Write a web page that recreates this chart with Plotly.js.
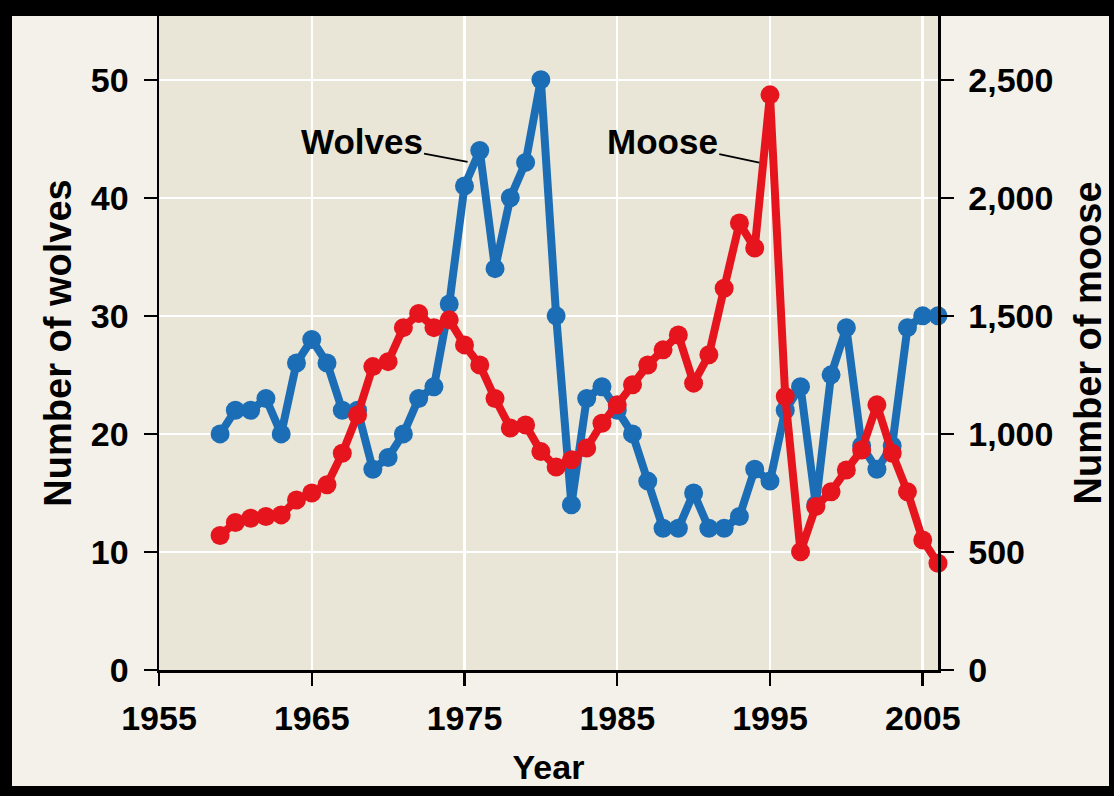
<!DOCTYPE html>
<html>
<head>
<meta charset="utf-8">
<script src="https://cdn.plot.ly/plotly-3.0.1.min.js"></script>
<style>
  html, body { margin: 0; padding: 0; background: #000; width: 1114px; height: 796px; overflow: hidden; }
  #chart { position: absolute; left: 12px; top: 16px; width: 1097px; height: 770px; background: #f4f1ea; }
</style>
</head>
<body>
<div id="chart"></div>
<script>
const years = [1959,1960,1961,1962,1963,1964,1965,1966,1967,1968,1969,1970,1971,1972,1973,1974,1975,1976,1977,1978,1979,1980,1981,1982,1983,1984,1985,1986,1987,1988,1989,1990,1991,1992,1993,1994,1995,1996,1997,1998,1999,2000,2001,2002,2003,2004,2005,2006];
const wolves = [20,22,22,23,20,26,28,26,22,22,17,18,20,23,24,31,41,44,34,40,43,50,30,14,23,24,22,20,16,12,12,15,12,12,13,17,16,22,24,14,25,29,19,17,19,29,30,30];
const moose = [570,625,643,650,657,720,750,785,918,1080,1285,1306,1450,1510,1450,1483,1377,1292,1150,1025,1038,925,860,890,940,1045,1123,1208,1292,1356,1419,1215,1335,1617,1893,1787,2436,1158,501,692,755,847,932,1123,918,755,551,452];
const xTicks = [1955,1965,1975,1985,1995,2005];
const wolfTicks = [0,10,20,30,40,50];
const mooseTicks = [0,500,1000,1500,2000,2500];
const labels = {wolves: 'Wolves', moose: 'Moose', x: 'Year', y1: 'Number of wolves', y2: 'Number of moose'};

const FONT = 'Liberation Sans, Arial, Helvetica, sans-serif';
const blue = '#1b6db5';
const red = '#e6151d';

const traces = [
  {x: years, y: wolves, type: 'scatter', mode: 'lines+markers', name: labels.wolves,
   line: {color: blue, width: 8}, marker: {color: blue, size: 19}, cliponaxis: false, yaxis: 'y'},
  {x: years, y: moose, type: 'scatter', mode: 'lines+markers', name: labels.moose,
   line: {color: red, width: 8}, marker: {color: red, size: 19}, cliponaxis: false, yaxis: 'y2'}
];

const axisCommon = {
  showline: true, linecolor: '#000', linewidth: 2.5,
  ticks: 'outside', ticklen: 13, tickwidth: 2.5, tickcolor: '#000',
  tickfont: {family: FONT, size: 34, color: '#000', weight: 700},
  zeroline: false
};

const layout = {
  width: 1097, height: 770,
  margin: {l: 147, r: 171, t: 0, b: 116, pad: 0},
  paper_bgcolor: '#f4f1ea',
  plot_bgcolor: '#e9e5d7',
  showlegend: false,
  font: {family: FONT, color: '#000'},
  xaxis: Object.assign({}, axisCommon, {
    range: [1955, 2006], tickvals: xTicks,
    showgrid: true, gridcolor: '#ffffff', gridwidth: 2.5,
    ticklabelstandoff: 4,
    title: {text: labels.x, font: {family: FONT, size: 34, weight: 700, color: '#000'}, standoff: 20}
  }),
  yaxis: Object.assign({}, axisCommon, {
    range: [0, 55.4], tickvals: wolfTicks,
    showgrid: true, gridcolor: '#ffffff', gridwidth: 2.5,
    ticklabelstandoff: 8,
    title: {text: labels.y1, font: {family: FONT, size: 38, weight: 700, color: '#000'}, standoff: 8}
  }),
  yaxis2: Object.assign({}, axisCommon, {
    range: [0, 2770], tickvals: mooseTicks, separatethousands: true,
    overlaying: 'y', side: 'right', showgrid: false,
    ticklabelstandoff: 8,
    title: {text: labels.y2, font: {family: FONT, size: 38, weight: 700, color: '#000'}, standoff: 30}
  }),
  annotations: [
    {x: 1975.2, y: 43.05, xref: 'x', yref: 'y', text: labels.wolves, showarrow: true,
     arrowhead: 0, arrowwidth: 1.8, arrowcolor: '#000', ax: -106, ay: -20, standoff: 0,
     font: {family: FONT, size: 35, weight: 700, color: '#000'}},
    {x: 1994.3, y: 42.97, xref: 'x', yref: 'y', text: labels.moose, showarrow: true,
     arrowhead: 0, arrowwidth: 1.8, arrowcolor: '#000', ax: -97, ay: -21, standoff: 0,
     font: {family: FONT, size: 35, weight: 700, color: '#000'}}
  ]
};

Plotly.newPlot('chart', traces, layout, {displayModeBar: false, staticPlot: true});
</script>
</body>
</html>
